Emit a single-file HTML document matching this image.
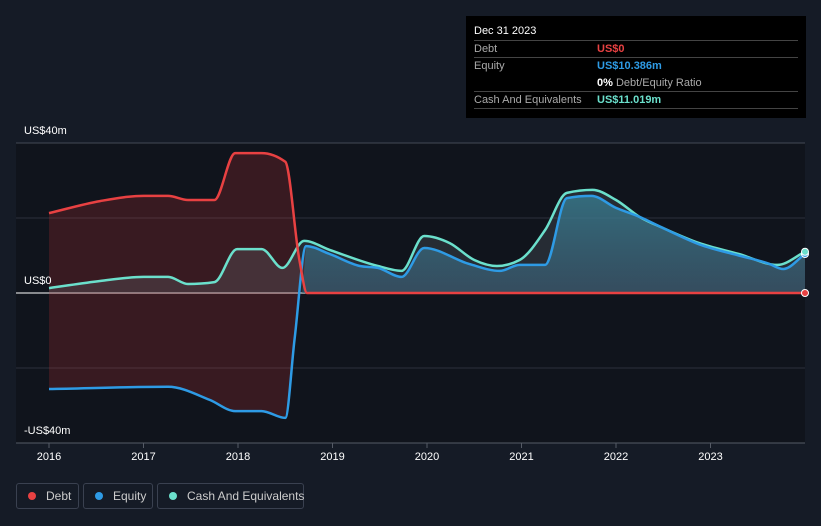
<!DOCTYPE html>
<html><head><meta charset="utf-8"><style>
body{margin:0;width:821px;height:526px;background:#151b26;font-family:"Liberation Sans",sans-serif;overflow:hidden;position:relative}
.tt{position:absolute;left:466px;top:16px;width:340px;height:102px;background:#000;color:#fff;font-size:11px}
.row{position:absolute;left:8px;width:324px;border-top:1px solid #444;height:17px;line-height:17px}
.lbl{position:absolute;left:0;color:#aaa}.val{position:absolute;left:123px;font-weight:bold}
.leg{position:absolute;top:483px;height:26px;border:1px solid #3a4150;border-radius:3px;color:#ccc;font-size:12px;line-height:24px;box-sizing:border-box;white-space:nowrap}
.dot{display:inline-block;width:8px;height:8px;border-radius:50%;margin:0 10px 0 11px;vertical-align:0px}
</style></head><body>
<svg id="chart" width="821" height="526" style="position:absolute;left:0;top:0">
<defs><linearGradient id="eg" x1="0" y1="0" x2="0" y2="1"><stop offset="0" stop-color="#2f7f93" stop-opacity="0.75"/><stop offset="1" stop-color="#2a5f78" stop-opacity="0.6"/></linearGradient></defs>
<rect x="16" y="143" width="789" height="300" fill="#10141c"/>
<g id="grid"></g><g id="areas"></g><g id="lines"></g><g id="xaxis"></g>
</svg>
<div style="position:absolute;left:24px;top:125px;color:#fff;font-size:11px">US$40m</div>
<div style="position:absolute;left:24px;top:275px;color:#fff;font-size:11px">US$0</div>
<div style="position:absolute;left:24px;top:425px;color:#fff;font-size:11px">-US$40m</div>
<div class="tt">
<div style="position:absolute;left:8px;top:9px;font-size:11px">Dec 31 2023</div>
<div class="row" style="top:24px"><span class="lbl">Debt</span><span class="val" style="color:#e84142">US$0</span></div>
<div class="row" style="top:41px"><span class="lbl">Equity</span><span class="val" style="color:#2e9be5">US$10.386m</span></div>
<div style="position:absolute;left:131px;top:59px;height:17px;line-height:17px;color:#aaa"><b style="color:#fff">0%</b> Debt/Equity Ratio</div>
<div class="row" style="top:75px"><span class="lbl">Cash And Equivalents</span><span class="val" style="color:#6be0cc">US$11.019m</span></div>
<div class="row" style="top:92px;height:0"></div>
</div>
<div class="leg" style="left:16px;width:63px"><span class="dot" style="background:#e84142"></span>Debt</div>
<div class="leg" style="left:83px;width:70px"><span class="dot" style="background:#2e9be5"></span>Equity</div>
<div class="leg" style="left:157px;width:147px"><span class="dot" style="background:#6be0cc"></span>Cash And Equivalents</div>
<script>
const debtT=[2016,2016.54,2017,2017.26,2017.47,2017.75,2017.97,2018.25,2018.5,2018.65,2018.73,2019,2020,2021,2022,2023,2024];
const debtV=[21.3,24.5,25.9,25.9,24.8,24.8,37.3,37.3,35,8.8,0,0,0,0,0,0,0];
const eqT=[2016,2017.26,2017.7,2017.97,2018.25,2018.5,2018.6,2018.72,2018.97,2019.29,2019.48,2019.73,2019.97,2020.45,2020.77,2020.98,2021.25,2021.48,2021.74,2022,2022.25,2022.5,2022.88,2023.3,2023.61,2023.77,2024];
const eqV=[-25.6,-25,-28.5,-31.5,-31.5,-33.3,-12,12.5,10.4,7.2,6.7,4.3,12,7.7,5.9,7.5,7.5,25.3,25.9,22.7,20.3,17.3,13,10,7.9,6.4,10.4];
const cashT=[2016,2016.54,2017,2017.26,2017.47,2017.75,2017.99,2018.25,2018.47,2018.7,2018.97,2019.48,2019.73,2019.97,2020.24,2020.5,2020.74,2020.98,2021.25,2021.48,2021.75,2022,2022.25,2022.5,2022.88,2023.3,2023.71,2024];
const cashV=[1.3,3.2,4.3,4.3,2.4,2.9,11.7,11.7,6.7,13.9,11.5,7.2,5.9,15.2,13.3,8.8,7.2,8.8,16.8,26.7,27.5,24.8,20.3,17.3,13.3,10.4,7.5,11];
const yTicks=[40,20,0,-20,-40];
const xTicks=[2016,2017,2018,2019,2020,2021,2022,2023];
const X=t=>49+(t-2016)*94.5, Y=v=>293-v*3.75;
const NS='http://www.w3.org/2000/svg';
function mk(tag,attrs,parent,name){const e=document.createElementNS(NS,tag);for(const k in attrs)e.setAttribute(k,attrs[k]);


document.getElementById(parent).appendChild(e);return e;}
// monotone-x cubic path segments
function mono(T,V){const x=T.map(X),y=V.map(Y),n=x.length;const d=[],m=[];
for(let i=0;i<n-1;i++)d.push((y[i+1]-y[i])/(x[i+1]-x[i]));
for(let i=0;i<n;i++){if(i===0)m.push(d[0]);else if(i===n-1)m.push(d[n-2]);else m.push(d[i-1]*d[i]<=0?0:(function(){const h0=x[i]-x[i-1],h1=x[i+1]-x[i];const p=(d[i-1]*h1+d[i]*h0)/(h0+h1);return (Math.sign(d[i-1])+Math.sign(d[i]))*Math.min(Math.abs(d[i-1]),Math.abs(d[i]),0.5*Math.abs(p));})());}
if(n>2){m[0]=d[0];m[n-1]=d[n-2];}
let s='';for(let i=0;i<n-1;i++){const h=(x[i+1]-x[i])/3;s+=' C'+(x[i]+h).toFixed(1)+','+(y[i]+m[i]*h).toFixed(1)+' '+(x[i+1]-h).toFixed(1)+','+(y[i+1]-m[i+1]*h).toFixed(1)+' '+x[i+1].toFixed(1)+','+y[i+1].toFixed(1);}
return {start:x[0].toFixed(1)+','+y[0].toFixed(1),segs:s};}
function rev(T,V){return mono(T.slice().reverse(),V.slice().reverse());}
yTicks.forEach(v=>mk('line',{x1:16,x2:805,y1:Y(v),y2:Y(v),stroke:v===0?'#fff':(Math.abs(v)===40?'#444a55':'#2c313b'),'stroke-width':1},'grid','gridline'));
const dP=mono(debtT,debtV),eR=rev(eqT,eqV),cP=mono(cashT,cashV),eP=mono(eqT,eqV);
mk('path',{d:'M'+dP.start+dP.segs+' L'+eR.start+eR.segs+' Z',fill:'rgba(200,50,55,0.22)'},'areas','debt-area');
mk('path',{d:'M'+X(2016)+','+Y(0)+' L'+cP.start+cP.segs+' L'+X(2024)+','+Y(0)+' Z',fill:'rgba(120,130,140,0.22)'},'areas','cash-area');
const ci=eqT.findIndex(t=>t>=2018.7);
const eqPart=mono(eqT.slice(ci),eqV.slice(ci));
mk('path',{d:'M'+X(2018.68)+','+Y(0)+' L'+eqPart.start+eqPart.segs+' L'+X(2024)+','+Y(0)+' Z',fill:'url(#eg)'},'areas','equity-area');
mk('path',{d:'M'+cP.start+cP.segs,fill:'none',stroke:'#6be0cc','stroke-width':2.5,'stroke-linejoin':'round'},'lines','cash-line');
mk('path',{d:'M'+eP.start+eP.segs,fill:'none',stroke:'#2e9be5','stroke-width':2.5,'stroke-linejoin':'round'},'lines','equity-line');
mk('path',{d:'M'+dP.start+dP.segs,fill:'none',stroke:'#e84142','stroke-width':2.5,'stroke-linejoin':'round'},'lines','debt-line');
mk('circle',{cx:X(2024),cy:Y(debtV[debtV.length-1]),r:3.5,fill:'#e84142',stroke:'#fff','stroke-width':1},'lines','debt-end-dot');
mk('circle',{cx:X(2024),cy:Y(eqV[eqV.length-1]),r:3.5,fill:'#2e9be5',stroke:'#fff','stroke-width':1},'lines','equity-end-dot');
mk('circle',{cx:X(2024),cy:Y(cashV[cashV.length-1]),r:3.5,fill:'#6be0cc',stroke:'#fff','stroke-width':1},'lines','cash-end-dot');
mk('line',{x1:16,x2:805,y1:443,y2:443,stroke:'#555b66'},'xaxis','x-axis-line');
xTicks.forEach(t=>{mk('line',{x1:X(t),x2:X(t),y1:443,y2:448,stroke:'#555b66'},'xaxis','x-tick');
const tx=mk('text',{x:X(t),y:460,fill:'#fff','font-size':11,'text-anchor':'middle','font-family':'Liberation Sans'},'xaxis','x-tick-label');tx.textContent=t;});
</script>
</body></html>
